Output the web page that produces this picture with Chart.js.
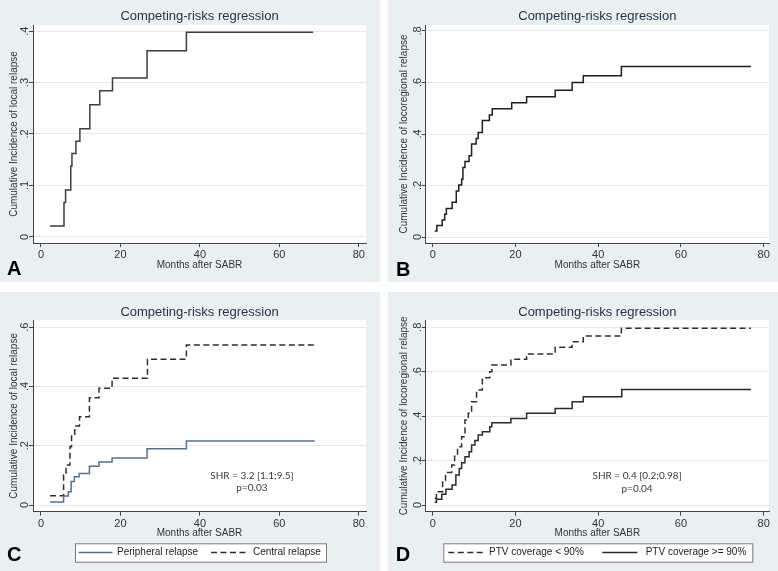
<!DOCTYPE html>
<html>
<head>
<meta charset="utf-8">
<script src="https://cdn.jsdelivr.net/npm/chart.js@4.4.1/dist/chart.umd.min.js"></script>
<style>
  html, body { margin: 0; padding: 0; background: #ffffff; }
  #page { position: relative; width: 778px; height: 571px; overflow: hidden; background: #ffffff; }
  .panel { position: absolute; background: #e9f0f2; }
  .panel canvas { display: block; }
</style>
</head>
<body>
<div id="page">
  <div class="panel" style="left:0;top:0;width:380px;height:282px"><canvas id="chartA" width="380" height="282"></canvas></div>
  <div class="panel" style="left:388px;top:0;width:390px;height:282px"><canvas id="chartB" width="390" height="282"></canvas></div>
  <div class="panel" style="left:0;top:292px;width:380px;height:279px"><canvas id="chartC" width="380" height="279"></canvas></div>
  <div class="panel" style="left:388px;top:292px;width:390px;height:279px"><canvas id="chartD" width="390" height="279"></canvas></div>
</div>
<script>
// Tick values (shared x axis, per-panel y axis)
const xTicks = [0, 20, 40, 60, 80];
const yTicksLocal = [0, 0.1, 0.2, 0.3, 0.4];
const yTicksLocoregional = [0, 0.2, 0.4, 0.6, 0.8];
const yTicksLocalByLocation = [0, 0.2, 0.4, 0.6];

// Panel A - cumulative incidence of local relapse
const monthsA = [2.3, 5.8, 6.2, 7.5, 7.8, 8.8, 9.8, 12.3, 14.8, 18.0, 26.7, 36.6, 68.5];
const cifA = [0.021, 0.067, 0.091, 0.138, 0.162, 0.186, 0.210, 0.257, 0.284, 0.309, 0.362, 0.398, 0.398];

// Panel B - cumulative incidence of locoregional relapse
const monthsB = [0.5, 1.0, 2.3, 2.9, 3.3, 4.7, 5.7, 6.3, 7.0, 7.3, 7.8, 8.8, 9.4, 10.5, 11.0, 12.0, 13.7, 14.4, 19.1, 22.7, 29.6, 33.7, 36.4, 45.6, 76.9];
const cifB = [0.023, 0.045, 0.066, 0.088, 0.111, 0.135, 0.179, 0.202, 0.224, 0.270, 0.293, 0.316, 0.361, 0.383, 0.406, 0.452, 0.474, 0.498, 0.521, 0.545, 0.570, 0.600, 0.626, 0.662, 0.662];

// Panel C - local relapse by tumour location
const monthsPeripheral = [2.3, 5.7, 6.9, 7.6, 8.4, 9.6, 12.2, 14.6, 17.9, 26.7, 36.6, 68.9];
const cifPeripheral = [0.010, 0.030, 0.045, 0.079, 0.095, 0.106, 0.131, 0.145, 0.159, 0.190, 0.216, 0.216];
const monthsCentral = [2.3, 5.7, 6.3, 7.3, 7.7, 8.5, 9.7, 12.2, 14.6, 17.9, 26.8, 36.6, 68.7];
const cifCentral = [0.031, 0.101, 0.135, 0.197, 0.233, 0.267, 0.298, 0.362, 0.394, 0.428, 0.492, 0.540, 0.540];

// Panel D - locoregional relapse by PTV coverage
const monthsLowCov = [0.5, 0.9, 2.4, 3.1, 4.6, 5.3, 6.0, 7.0, 7.8, 8.6, 9.4, 10.6, 12.0, 13.8, 14.3, 18.9, 22.7, 29.6, 33.7, 36.4, 45.6, 76.9];
const cifLowCov = [0.030, 0.060, 0.110, 0.147, 0.180, 0.220, 0.262, 0.307, 0.383, 0.413, 0.465, 0.518, 0.573, 0.600, 0.630, 0.656, 0.680, 0.710, 0.735, 0.761, 0.796, 0.796];
const monthsHighCov = [0.5, 0.9, 2.2, 3.2, 4.7, 5.6, 6.4, 7.0, 7.8, 8.8, 9.4, 10.2, 11.0, 12.0, 13.8, 14.3, 18.9, 22.7, 29.6, 33.7, 36.4, 45.7, 76.9];
const cifHighCov = [0.013, 0.026, 0.048, 0.071, 0.090, 0.135, 0.165, 0.190, 0.217, 0.240, 0.270, 0.290, 0.315, 0.330, 0.352, 0.370, 0.390, 0.413, 0.435, 0.465, 0.488, 0.520, 0.520];

const FONT = '"Liberation Sans", Arial, sans-serif';
const INK = '#333333';
const TITLE = 'Competing-risks regression';
const X_TITLE = 'Months after SABR';

// Stata style: "0", ".2", ".4" ...
function yLabel(v) {
    return v === 0 ? '0' : v.toFixed(1).replace(/^0/, '');
}

function stepData(months, values) {
    return months.map((m, i) => ({ x: m, y: values[i] }));
}

// white plot region, title, panel letter, note text and boxed legend
const stataPanel = {
    id: 'stataPanel',
    beforeDraw(chart) {
        const { ctx, chartArea: a } = chart;
        ctx.save();
        ctx.fillStyle = '#ffffff';
        ctx.fillRect(a.left, a.top, a.right - a.left, a.bottom - a.top);
        ctx.restore();
    },
    afterDraw(chart, args, opts) {
        const { ctx, chartArea: a, scales } = chart;
        ctx.save();

        ctx.font = '13px ' + FONT;
        ctx.fillStyle = '#26324d';
        ctx.textAlign = 'center';
        ctx.textBaseline = 'middle';
        ctx.fillText(TITLE, (a.left + a.right) / 2, opts.titleY);

        ctx.font = 'bold 20px ' + FONT;
        ctx.fillStyle = '#000000';
        ctx.textAlign = 'left';
        ctx.textBaseline = 'alphabetic';
        ctx.fillText(opts.letter, opts.letterX, opts.letterY);

        if (opts.note) {
            const nx = scales.x.getPixelForValue(opts.note.x);
            const ny = scales.y.getPixelForValue(opts.note.y);
            ctx.font = '10px Lato, "Open Sans", sans-serif';
            ctx.fillStyle = '#3a3a3a';
            ctx.textAlign = 'center';
            ctx.textBaseline = 'middle';
            opts.note.lines.forEach((t, i) => ctx.fillText(t, nx, ny + i * 12.5));
        }

        if (opts.legend) {
            const L = opts.legend;
            ctx.fillStyle = '#ffffff';
            ctx.fillRect(L.left, L.top, L.right - L.left, L.bottom - L.top);
            ctx.strokeStyle = '#7a7a7a';
            ctx.lineWidth = 1;
            ctx.strokeRect(L.left + 0.5, L.top + 0.5, L.right - L.left, L.bottom - L.top);
            const cy = (L.top + L.bottom) / 2;
            L.items.forEach(it => {
                const ds = chart.data.datasets[it.dataset];
                ctx.save();
                ctx.strokeStyle = ds.borderColor;
                ctx.lineWidth = ds.borderWidth;
                ctx.setLineDash(ds.borderDash || []);
                ctx.beginPath();
                ctx.moveTo(it.x0, cy);
                ctx.lineTo(it.x1, cy);
                ctx.stroke();
                ctx.restore();
                ctx.font = '10px ' + FONT;
                ctx.fillStyle = '#222222';
                ctx.textAlign = 'left';
                ctx.textBaseline = 'middle';
                ctx.fillText(ds.label, it.tx, cy);
            });
        }
        ctx.restore();
    }
};

function makePanel(id, p) {
    const canvas = document.getElementById(id);
    const W = canvas.width;
    const H = canvas.height;
    return new Chart(canvas.getContext('2d'), {
        type: 'line',
        data: {
            datasets: p.series.map(s => ({
                label: s.label,
                data: stepData(s.months, s.values),
                stepped: true,
                borderColor: s.color,
                borderWidth: 1.5,
                borderDash: s.dash || [],
                pointRadius: 0,
                fill: false,
                tension: 0
            }))
        },
        options: {
            responsive: false,
            animation: false,
            devicePixelRatio: 1,
            layout: { padding: { left: 0, top: p.area.top, right: W - p.area.right, bottom: 0 } },
            plugins: {
                legend: { display: false },
                tooltip: { enabled: false },
                title: { display: false },
                stataPanel: p.decor
            },
            scales: {
                x: {
                    type: 'linear',
                    min: p.xMin,
                    max: p.xMax,
                    afterFit: s => { s.height = H - p.area.bottom; },
                    afterBuildTicks: s => { s.ticks = xTicks.map(v => ({ value: v })); },
                    grid: { display: true, drawOnChartArea: false, tickLength: 4, tickColor: '#444444', tickWidth: 1 },
                    border: { color: '#444444', width: 1 },
                    ticks: { color: INK, font: { family: FONT, size: 11 }, padding: p.xTickPad, maxRotation: 0, autoSkip: false },
                    title: { display: true, text: X_TITLE, color: INK, font: { family: FONT, size: 10 }, padding: { top: 0, bottom: p.xTitlePad } }
                },
                y: {
                    type: 'linear',
                    min: p.yMin,
                    max: p.yMax,
                    afterFit: s => { s.width = p.area.left; },
                    afterBuildTicks: s => { s.ticks = p.yTicks.map(v => ({ value: v })); },
                    grid: { color: '#e4ebee', lineWidth: 1, tickLength: 4, tickColor: '#444444', tickWidth: 1 },
                    border: { color: '#444444', width: 1 },
                    ticks: {
                        color: INK, font: { family: FONT, size: 11 }, padding: -0.5,
                        minRotation: 90, maxRotation: 90, crossAlign: 'center', autoSkip: false,
                        callback: v => yLabel(v)
                    },
                    title: { display: true, text: p.yTitle, color: INK, font: { family: FONT, size: 10 }, padding: { top: p.yTitlePad, bottom: 0 } }
                }
            }
        },
        plugins: [stataPanel]
    });
}

makePanel('chartA', {
    area: { left: 33, right: 366, top: 25, bottom: 243 },
    xMin: -2.0, xMax: 81.8, yMin: -0.012, yMax: 0.412,
    yTicks: yTicksLocal,
    yTitle: 'Cumulative Incidence of local relapse',
    xTickPad: 1, xTitlePad: 11, yTitlePad: 8,
    series: [{ label: 'Local relapse', months: monthsA, values: cifA, color: '#3d3d3d' }],
    decor: { titleY: 16, letter: 'A', letterX: 7, letterY: 275 }
});

makePanel('chartB', {
    area: { left: 37.7, right: 381, top: 25, bottom: 243 },
    xMin: -1.69, xMax: 81.28, yMin: -0.0233, yMax: 0.8233,
    yTicks: yTicksLocoregional,
    yTitle: 'Cumulative Incidence of locoregional relapse',
    xTickPad: 1, xTitlePad: 11, yTitlePad: 10,
    series: [{ label: 'Locoregional relapse', months: monthsB, values: cifB, color: '#1e1e1e' }],
    decor: { titleY: 16, letter: 'B', letterX: 8, letterY: 276 }
});

makePanel('chartC', {
    area: { left: 33, right: 366, top: 28, bottom: 219.7 },
    xMin: -2.0, xMax: 81.8, yMin: -0.0226, yMax: 0.6246,
    yTicks: yTicksLocalByLocation,
    yTitle: 'Cumulative Incidence of local relapse',
    xTickPad: 2, xTitlePad: 31.7, yTitlePad: 8,
    series: [
        { label: 'Peripheral relapse', months: monthsPeripheral, values: cifPeripheral, color: '#56718c' },
        { label: 'Central relapse', months: monthsCentral, values: cifCentral, color: '#2e2e2e', dash: [6, 3.5] }
    ],
    decor: {
        titleY: 20, letter: 'C', letterX: 7, letterY: 269,
        note: { x: 53.1, y: 0.099, lines: ['SHR = 3.2 [1.1;9.5]', 'p=0.03'] },
        legend: {
            left: 75, right: 326, top: 251.3, bottom: 269.7,
            items: [{ dataset: 0, x0: 78.5, x1: 112.5, tx: 117 }, { dataset: 1, x0: 211, x1: 249, tx: 253 }]
        }
    }
});

makePanel('chartD', {
    area: { left: 37.7, right: 381, top: 28, bottom: 219.7 },
    xMin: -1.69, xMax: 81.28, yMin: -0.030, yMax: 0.833,
    yTicks: yTicksLocoregional,
    yTitle: 'Cumulative Incidence of locoregional relapse',
    xTickPad: 2, xTitlePad: 31.7, yTitlePad: 10,
    series: [
        { label: 'PTV coverage < 90%', months: monthsLowCov, values: cifLowCov, color: '#2e2e2e', dash: [6, 3.5] },
        { label: 'PTV coverage >= 90%', months: monthsHighCov, values: cifHighCov, color: '#2a2a2a' }
    ],
    decor: {
        titleY: 20, letter: 'D', letterX: 7.7, letterY: 269,
        note: { x: 49.4, y: 0.131, lines: ['SHR = 0.4 [0.2;0.98]', 'p=0.04'] },
        legend: {
            left: 55.3, right: 364.3, top: 251.3, bottom: 269.7,
            items: [{ dataset: 0, x0: 60.3, x1: 96, tx: 101 }, { dataset: 1, x0: 214.3, x1: 249.3, tx: 257.7 }]
        }
    }
});
</script>
</body>
</html>
